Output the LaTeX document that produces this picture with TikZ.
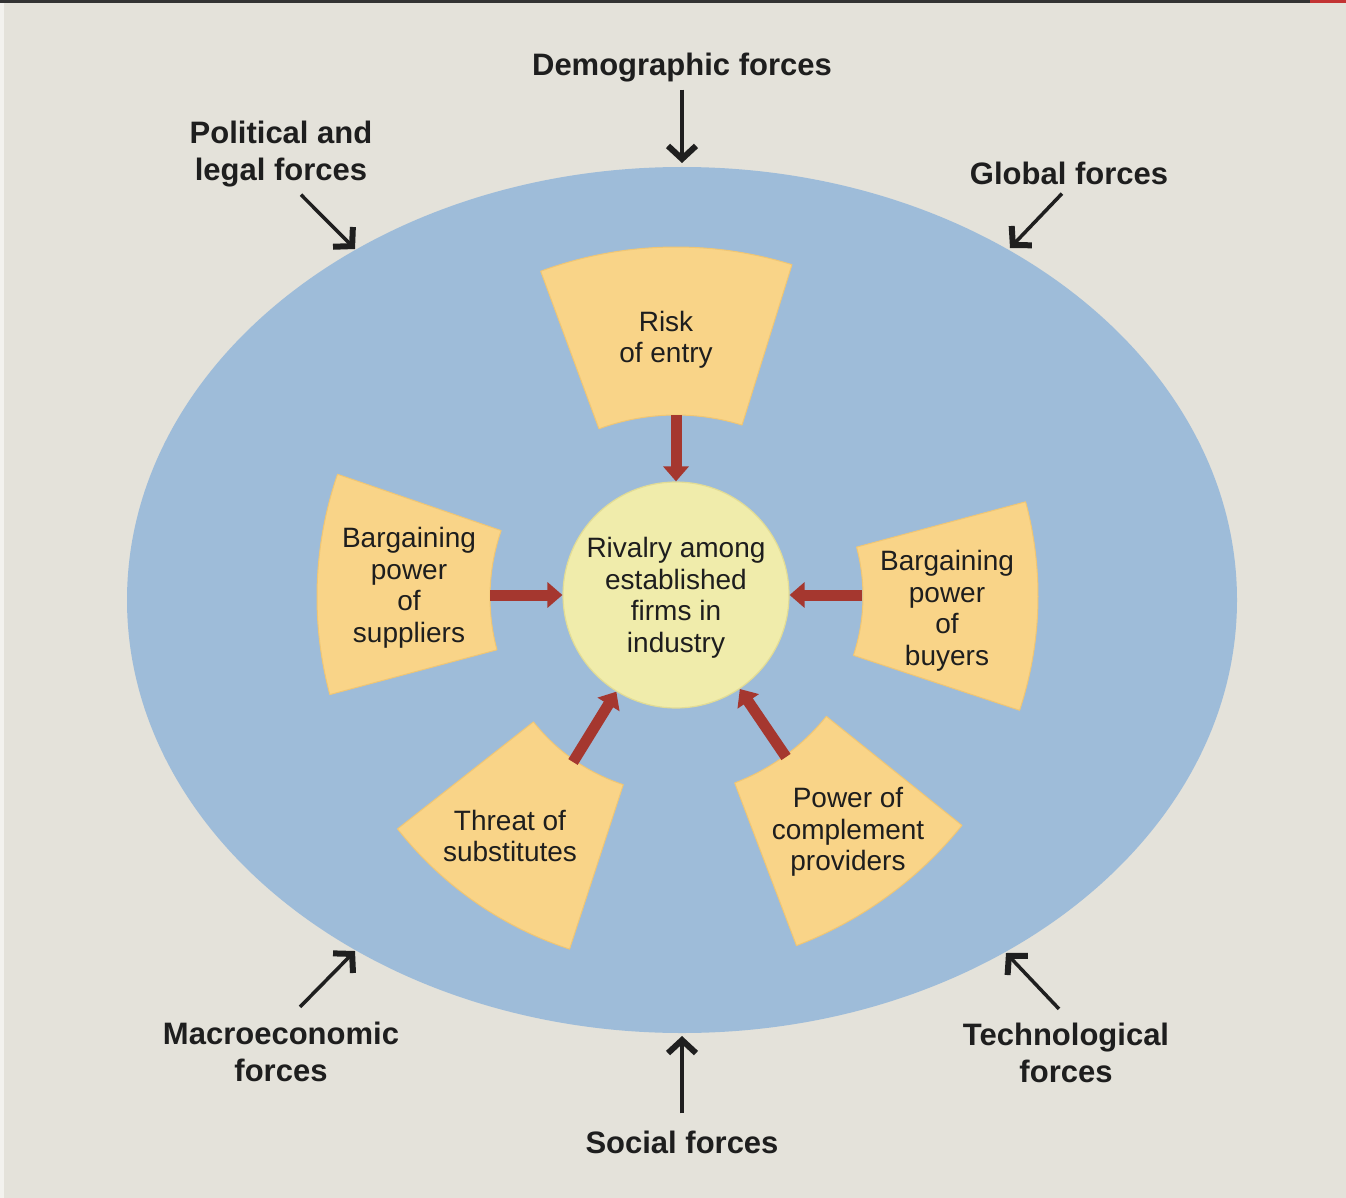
\documentclass[tikz,border=0pt]{standalone}
\usepackage{fontspec}
\setmainfont{Liberation Sans}
\usetikzlibrary{arrows.meta}
\definecolor{bgc}{HTML}{E4E2DA}
\definecolor{ellc}{HTML}{9EBCD9}
\definecolor{secc}{HTML}{F9D488}
\definecolor{secd}{HTML}{F0C674}
\definecolor{circc}{HTML}{F0ECAB}
\definecolor{circd}{HTML}{E2DC95}
\definecolor{redc}{HTML}{A5372F}
\definecolor{txtc}{HTML}{1E1E1E}
\newcommand\fsector[5]{%
  \begin{scope}[shift={#1}, y=1pt]
    \draw[sectorshape] (#4:#2) -- (#4:#3) arc[start angle=#4, end angle=#5, radius=#3]
      -- (#5:#2) arc[start angle=#5, end angle=#4, radius=#2] -- cycle;
  \end{scope}}
\begin{document}
\begin{tikzpicture}[x=1pt,y=-1pt,
  lab/.style={font=\bfseries\fontsize{31}{37}\selectfont, text=txtc, align=center, inner sep=0pt},
  inner/.style={font=\fontsize{28}{31.5}\selectfont, text=txtc, align=center, inner sep=0pt},
  farrow/.style={draw=black!88, line width=3.5pt, -{Straight Barb[length=13pt,width=28pt,line width=6pt]}},
  rarrow/.style={draw=redc, line width=11pt, -{Triangle[length=15pt,width=25pt]}},
  sectorshape/.style={fill=secc, draw=secd, line width=1pt, line join=round}]
\path[use as bounding box] (0,0) rectangle (1346,1198);
\fill[bgc] (0,0) rectangle (1346,1198);
\fill[white!55!bgc] (0,0) rectangle (4,1198);
\fill[black!80] (0,0) rectangle (1310,3);
\fill[red!70!black!80] (1310,0) rectangle (1346,3);

% outer ellipse
\fill[ellc] (682,600) ellipse [x radius=555, y radius=433];

% sectors
\fsector{(676,637)}{222}{390}{72.7}{110.3}
\fsector{(694,597)}{204}{377}{161}{195}
\fsector{(674,596)}{189}{364}{-18.3}{15}
\fsector{(682,605)}{189}{362}{218.2}{251.9}
\fsector{(658,581)}{216}{390}{-69.2}{-38.8}

% centre
\node[circle, minimum size=226pt, fill=circc, draw=circd, line width=1.2pt, inner sep=0pt] (rival) at (676,595) {};
\node[inner] (rivaltxt) at (676,598) {Rivalry among\\established\\firms in\\industry};

% sector texts
\node[inner] (risk) at (666,340) {Risk\\of entry};
\node[inner] (supp) at (409,588) {Bargaining\\power\\of\\suppliers};
\node[inner] (buy) at (947,611) {Bargaining\\power\\of\\buyers};
\node[inner] (threat) at (510,836) {Threat of\\substitutes};
\node[inner] (power) at (848,832) {Power of\\complement\\providers};

% arrow starts on inner arcs
\coordinate (riskin) at (676,415);
\coordinate (suppin) at (490,595);
\coordinate (buyin) at (862,595);
\coordinate (threatin) at (573,762);
\coordinate (powerin) at (786,757);

\draw[rarrow] (riskin) -- (rival);
\draw[rarrow] (suppin) -- (rival);
\draw[rarrow] (buyin) -- (rival);
\draw[rarrow] (threatin) -- (rival);
\draw[rarrow] (powerin) -- (rival);

% external forces
\node[lab] (dem) at (682,68) {Demographic forces};
\node[lab] (pol) at (281,154.5) {Political and\\legal forces};
\node[lab] (glob) at (1069,173) {Global forces};
\node[lab] (macro) at (281,1052) {Macroeconomic\\forces};
\node[lab] (soc) at (682,1142) {Social forces};
\node[lab] (tech) at (1066,1053) {Technological\\forces};

\coordinate (demE) at (682,163);
\coordinate (polE) at (355,249);
\coordinate (globE) at (1010,248);
\coordinate (macroE) at (355,951);
\coordinate (socE) at (682,1036);
\coordinate (techE) at (1006,953);

\draw[farrow] ([shift={(0,7)}]dem.south) -- (demE);
\draw[farrow] ([shift={(20,7)}]pol.south) -- (polE);
\draw[farrow] ([shift={(-7,9)}]glob.south) -- (globE);
\draw[farrow] ([shift={(19,-15)}]macro.north) -- (macroE);
\draw[farrow] ([shift={(0,-17)}]soc.north) -- (socE);
\draw[farrow] ([shift={(-7,-14)}]tech.north) -- (techE);
\end{tikzpicture}
\end{document}
